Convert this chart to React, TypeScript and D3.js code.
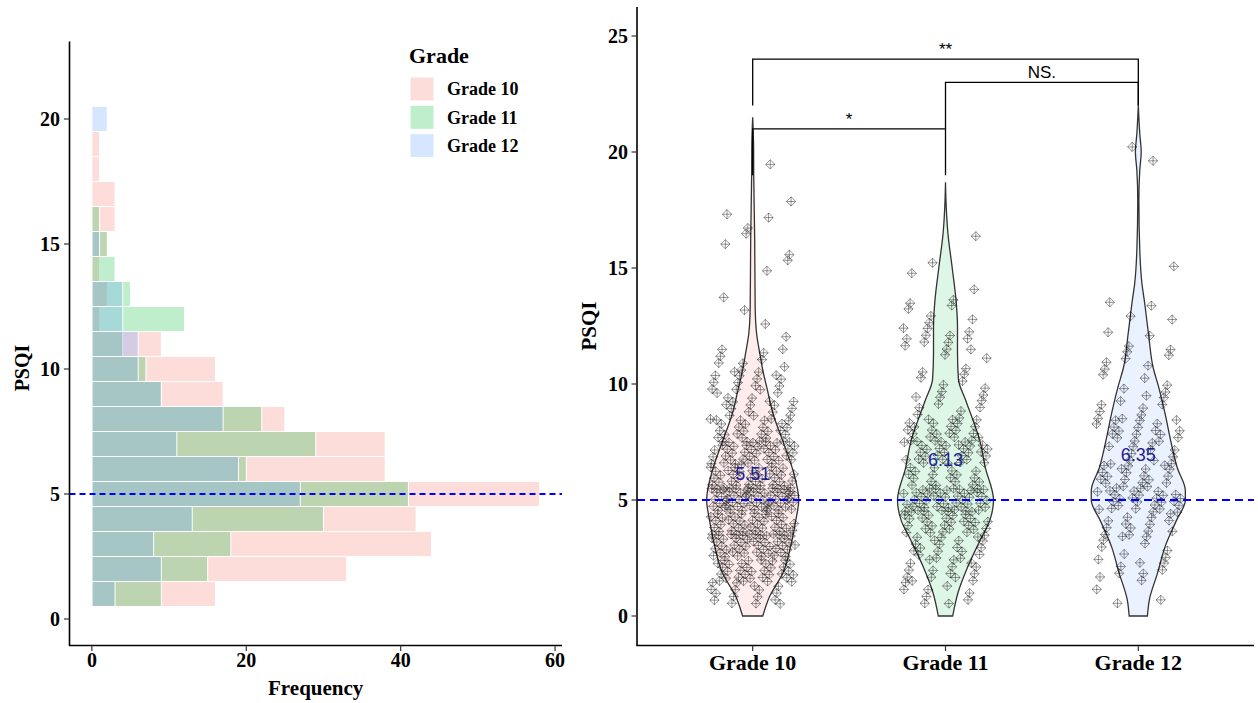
import React from "react";
import * as d3 from "d3";

// ---- data ----
const grades = ["Grade 10", "Grade 11", "Grade 12"];
const gradeColors = ["#F8766D", "#00BA38", "#619CFF"];

// histogram bins (PSQI, binwidth 1) and counts per grade
const psqiBins = [1, 2, 3, 4, 5, 6, 7, 8, 9, 10, 11, 12, 13, 14, 15, 16, 17, 18, 19, 20];
const countG10 = [16, 33, 44, 42, 58, 38, 38, 25, 17, 16, 9, 1, 2, 1, 2, 3, 3, 1, 1, 0];
const countG11 = [9, 15, 18, 30, 41, 20, 29, 22, 9, 7, 4, 12, 5, 3, 2, 1, 0, 0, 0, 0];
const countG12 = [3, 9, 8, 13, 27, 19, 11, 17, 9, 6, 6, 4, 4, 0, 1, 0, 0, 0, 0, 2];

// violin outlines: PSQI level and relative density (1 = widest)
const violinLevels10 = [0, 0.83, 1.85, 3.0, 4.14, 5.0, 6.2, 7.3, 8.75, 9.8, 10.5, 11.3, 12.2, 13.3, 16.2, 19.1, 20.2, 21.5];
const violinWidth10 = [0.21, 0.35, 0.63, 0.79, 0.9, 0.96, 0.85, 0.67, 0.42, 0.3, 0.22, 0.15, 0.08, 0.052, 0.042, 0.021, 0.019, 0];
const violinLevels11 = [0, 1.0, 2.1, 3.3, 4.1, 5.0, 6.4, 7.6, 8.4, 9.3, 10.2, 11.3, 12.5, 13.6, 15.0, 16.5, 17.9, 18.7];
const violinWidth11 = [0.15, 0.26, 0.46, 0.73, 0.92, 1.0, 0.83, 0.71, 0.58, 0.42, 0.27, 0.25, 0.25, 0.22, 0.14, 0.05, 0.01, 0];
const violinLevels12 = [0, 0.7, 1.85, 3.0, 4.1, 5.0, 5.4, 6.4, 7.6, 8.7, 9.9, 10.7, 12.2, 13.6, 14.3, 15.8, 17.9, 19.2, 20.0, 20.8, 22];
const violinWidth12 = [0.19, 0.23, 0.4, 0.56, 0.79, 0.98, 0.98, 0.81, 0.67, 0.56, 0.42, 0.31, 0.21, 0.125, 0.077, 0.03, 0.012, 0.03, 0.06, 0.03, 0];

const gradeMeans = [5.51, 6.13, 6.35];
const cutoff = 5;

// significance brackets
const bracketFrom = ["Grade 10", "Grade 10", "Grade 11"];
const bracketTo = ["Grade 11", "Grade 12", "Grade 12"];
const bracketLevel = [21, 24, 23];
const bracketTipFrom = [19, 22, 21];
const bracketTipTo = [19, 22, 22];
const bracketLabels = ["*", "**", "NS."];

const leftXTicks = [0, 20, 40, 60];
const leftYTicks = [0, 5, 10, 15, 20];
const rightYTicks = [0, 5, 10, 15, 20, 25];

const serif = "'Liberation Serif', 'Times New Roman', serif";
const sans = "'Liberation Sans', Arial, sans-serif";

const frac = (v: number) => v - Math.floor(v);

export default function App() {
  const counts = [countG10, countG11, countG12];
  const levels = [violinLevels10, violinLevels11, violinLevels12];
  const widths = [violinWidth10, violinWidth11, violinWidth12];

  // left panel: histogram
  const xL = d3.scaleLinear().domain([-2.9, 60.9]).range([69.5, 562]);
  const yL = d3.scaleLinear().domain([-1.1, 23.1]).range([646.5, 41.5]);

  // right panel: violins
  const xR = d3.scalePoint<string>().domain(grades).range([637, 1254]).padding(0.6);
  const yR = d3.scaleLinear().domain([-1.25, 26.25]).range([645, 7]);
  const step = xR.step();
  const wScale = d3.scaleLinear().domain([0, 1]).range([0, 48]);
  const jitterW = 0.22 * step;

  const diamond = (r: number) =>
    `M0,${-r}L${r},0L0,${r}L${-r},0Z M0,${-r}V${r} M${-r},0H${r}`;

  return (
    <div style={{ position: "absolute", left: 0, top: 0 }}>
      <svg width={1258} height={703} style={{ display: "block", background: "#fff" }}>
        {/* ---------- left: histogram ---------- */}
        <g>
          {counts.map((cs, gi) => (
            <g key={gi}>
              {psqiBins.map((b, bi) =>
                cs[bi] > 0 ? (
                  <rect
                    key={b}
                    x={xL(0)}
                    y={yL(b + 0.5)}
                    width={xL(cs[bi]) - xL(0)}
                    height={yL(b - 0.5) - yL(b + 0.5)}
                    fill={gradeColors[gi]}
                    fillOpacity={0.25}
                    stroke="#fff"
                    strokeWidth={1}
                  />
                ) : null
              )}
            </g>
          ))}
          <line x1={xL.range()[0]} x2={xL.range()[1]} y1={yL(cutoff)} y2={yL(cutoff)}
            stroke="#0000FF" strokeWidth={1.8} strokeDasharray="6,4" />
          {/* axes */}
          <line x1={69.5} x2={69.5} y1={41.5} y2={646} stroke="#000" strokeWidth={1.6} />
          <line x1={69} x2={562} y1={645.5} y2={645.5} stroke="#000" strokeWidth={1.6} />
          {leftYTicks.map((t) => (
            <g key={t}>
              <line x1={64} x2={69.5} y1={yL(t)} y2={yL(t)} stroke="#333" strokeWidth={1.2} />
              <text x={60} y={yL(t)} dy="0.35em" textAnchor="end" fontFamily={serif}
                fontWeight="bold" fontSize={20}>{t}</text>
            </g>
          ))}
          {leftXTicks.map((t) => (
            <g key={t}>
              <line x1={xL(t)} x2={xL(t)} y1={645.5} y2={651} stroke="#333" strokeWidth={1.2} />
              <text x={xL(t)} y={667} textAnchor="middle" fontFamily={serif}
                fontWeight="bold" fontSize={20}>{t}</text>
            </g>
          ))}
          <text x={315.7} y={695} textAnchor="middle" fontFamily={serif} fontWeight="bold"
            fontSize={21}>Frequency</text>
          <text transform="translate(29,368) rotate(-90)" textAnchor="middle"
            fontFamily={serif} fontWeight="bold" fontSize={20}>PSQI</text>
          {/* legend */}
          <text x={409} y={63} fontFamily={serif} fontWeight="bold" fontSize={22}>Grade</text>
          {grades.map((g, gi) => (
            <g key={g} transform={`translate(410,${77 + gi * 28.3})`}>
              <rect width={24} height={24} fill={gradeColors[gi]} fillOpacity={0.25}
                stroke="#fff" strokeWidth={1} />
              <text x={37} y={12} dy="0.35em" fontFamily={serif} fontWeight="bold"
                fontSize={18}>{g}</text>
            </g>
          ))}
        </g>

        {/* ---------- right: violins ---------- */}
        <g>
          {grades.map((g, gi) => {
            const cx = xR(g) as number;
            const pts = levels[gi].map((lv, i) => [lv, widths[gi][i]] as [number, number]);
            const area = d3
              .area<[number, number]>()
              .y((d) => yR(d[0]))
              .x0((d) => cx - wScale(d[1]))
              .x1((d) => cx + wScale(d[1]))
              .curve(d3.curveMonotoneY);
            return (
              <path key={g} d={area(pts) || ""} fill={gradeColors[gi]} fillOpacity={0.13}
                stroke="#333" strokeWidth={1.3} />
            );
          })}
          {/* jittered observations (low-discrepancy jitter instead of random noise) */}
          {grades.map((g, gi) => {
            const cx = xR(g) as number;
            const marks: React.ReactNode[] = [];
            let idx = 0;
            psqiBins.forEach((b, bi) => {
              for (let j = 0; j < counts[gi][bi]; j++) {
                idx++;
                const jx = frac(0.5 + idx * 0.7548776662) * 2 - 1;
                const jy = frac(0.5 + idx * 0.5698402910) - 0.5;
                marks.push(
                  <path key={idx} transform={`translate(${cx + jx * jitterW},${yR(b + jy * 1.05)})`}
                    d={diamond(4.6)} fill="none" stroke="#000" strokeOpacity={0.45}
                    strokeWidth={0.9} />
                );
              }
            });
            return <g key={g}>{marks}</g>;
          })}
          {grades.map((g, gi) => (
            <text key={g} x={xR(g) as number} y={yR(gradeMeans[gi]) - 8} textAnchor="middle"
              fontFamily={sans} fontSize={18} fill="#1c1c96">{gradeMeans[gi].toFixed(2)}</text>
          ))}
          <line x1={637} x2={1254} y1={yR(cutoff)} y2={yR(cutoff)} stroke="#0000FF"
            strokeWidth={1.8} strokeDasharray="8,5" />
          {/* significance brackets */}
          {bracketLabels.map((lab, i) => {
            const x1 = xR(bracketFrom[i]) as number;
            const x2 = xR(bracketTo[i]) as number;
            return (
              <g key={i}>
                <path d={`M${x1},${yR(bracketTipFrom[i])}V${yR(bracketLevel[i])}H${x2}V${yR(bracketTipTo[i])}`}
                  fill="none" stroke="#000" strokeWidth={1.3} />
                <text x={(x1 + x2) / 2} y={yR(bracketLevel[i]) - 4} textAnchor="middle"
                  fontFamily={sans} fontSize={17}>{lab}</text>
              </g>
            );
          })}
          {/* axes */}
          <line x1={637} x2={637} y1={7} y2={646} stroke="#000" strokeWidth={1.6} />
          <line x1={636.5} x2={1254} y1={645.5} y2={645.5} stroke="#000" strokeWidth={1.6} />
          {rightYTicks.map((t) => (
            <g key={t}>
              <line x1={631.5} x2={637} y1={yR(t)} y2={yR(t)} stroke="#333" strokeWidth={1.2} />
              <text x={628} y={yR(t)} dy="0.35em" textAnchor="end" fontFamily={serif}
                fontWeight="bold" fontSize={20}>{t}</text>
            </g>
          ))}
          {grades.map((g) => (
            <g key={g}>
              <line x1={xR(g) as number} x2={xR(g) as number} y1={645.5} y2={651} stroke="#333"
                strokeWidth={1.2} />
              <text x={xR(g) as number} y={670} textAnchor="middle" fontFamily={serif}
                fontWeight="bold" fontSize={22}>{g}</text>
            </g>
          ))}
          <text transform={`translate(596,${(7 + 645) / 2}) rotate(-90)`} textAnchor="middle"
            fontFamily={serif} fontWeight="bold" fontSize={21}>PSQI</text>
        </g>
      </svg>
    </div>
  );
}
